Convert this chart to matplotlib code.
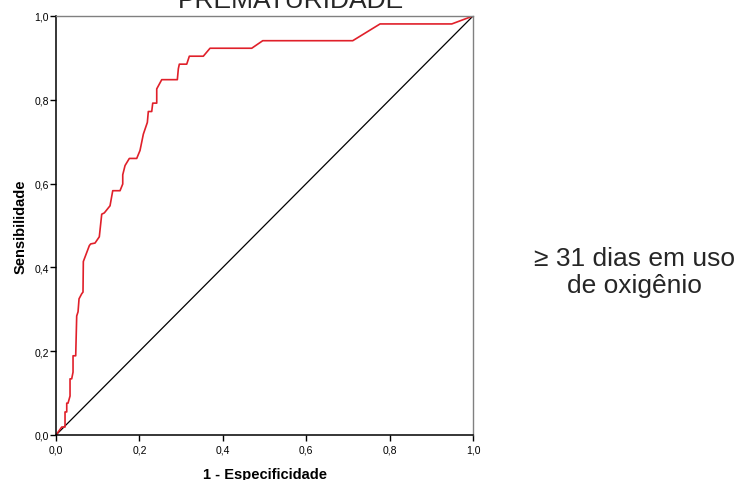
import matplotlib
matplotlib.use("Agg")
import matplotlib.pyplot as plt
from matplotlib.ticker import FuncFormatter

# ROC curve (1 - especificidade, sensibilidade)
fpr = [0.0, 0.0137, 0.0216, 0.0216, 0.0257, 0.0257, 0.0288, 0.0336, 0.0336,
       0.0376, 0.0408, 0.0408, 0.0472, 0.0496, 0.0528, 0.0552, 0.0616, 0.0647,
       0.0655, 0.0799, 0.0832, 0.0935, 0.1038, 0.1096, 0.1158, 0.1295, 0.136,
       0.1535, 0.16, 0.16, 0.1655, 0.1758, 0.1935, 0.2014, 0.2094, 0.219,
       0.2213, 0.2295, 0.2319, 0.2415, 0.2415, 0.2535, 0.2909, 0.2933, 0.2957,
       0.3134, 0.3197, 0.3532, 0.3693, 0.4693, 0.4957, 0.7115, 0.777, 0.949,
       1.0]
tpr = [0.0, 0.019, 0.019, 0.055, 0.055, 0.076, 0.076, 0.093, 0.134,
       0.134, 0.150, 0.189, 0.189, 0.284, 0.294, 0.325, 0.337, 0.341,
       0.414, 0.452, 0.456, 0.458, 0.473, 0.527, 0.530, 0.547, 0.583,
       0.583, 0.599, 0.621, 0.643, 0.660, 0.660, 0.679, 0.718, 0.746,
       0.772, 0.772, 0.792, 0.792, 0.826, 0.848, 0.848, 0.874, 0.885,
       0.885, 0.904, 0.904, 0.923, 0.923, 0.941, 0.941, 0.981, 0.981,
       1.0]
ref_line = [0.0, 1.0]
ticks = [0.0, 0.2, 0.4, 0.6, 0.8, 1.0]

title = "PREMATURIDADE"
side_lines = ["≥ 31 dias em uso", "de oxigênio"]

plt.rcParams['font.family'] = ['Liberation Sans', 'DejaVu Sans']

fig = plt.figure(figsize=(7.41, 4.81), dpi=100)
ax = fig.add_axes([0.0756, 0.0936, 0.5628, 0.8711])

ax.plot(ref_line, ref_line, color='black', lw=0.9)
ax.plot(fpr, tpr, color='#e0202a', lw=1.2)

ax.set_xlim(0, 1)
ax.set_ylim(0, 1)
ax.set_xticks(ticks)
ax.set_yticks(ticks)
comma = FuncFormatter(lambda v, p: "{0:.1f}".format(v).replace('.', ','))
ax.xaxis.set_major_formatter(comma)
ax.yaxis.set_major_formatter(comma)
ax.tick_params(axis='both', direction='out', length=4, width=1,
               labelsize=7.5, colors='black')
ax.tick_params(axis='x', pad=3)
ax.tick_params(axis='y', pad=1)

for s in ['left', 'bottom']:
    ax.spines[s].set_color('black')
    ax.spines[s].set_linewidth(1.1)
for s in ['top', 'right']:
    ax.spines[s].set_color('#808080')
    ax.spines[s].set_linewidth(1.0)

ax.set_xlabel("1 - Especificidade", fontsize=10.5, fontweight='bold', labelpad=9)
ax.set_ylabel("Sensibilidade", fontsize=10.5, fontweight='bold', labelpad=5)

fig.text(291 / 741, (481 - 8.5) / 481, title, ha='center', va='baseline',
         fontsize=19, color='#262626')
fig.text(634 / 741, (481 - 266) / 481, side_lines[0], ha='center',
         va='baseline', fontsize=19, color='#262626')
fig.text(634 / 741, (481 - 293) / 481, side_lines[1], ha='center',
         va='baseline', fontsize=19, color='#262626')

fig.savefig("out.png", dpi=100)
